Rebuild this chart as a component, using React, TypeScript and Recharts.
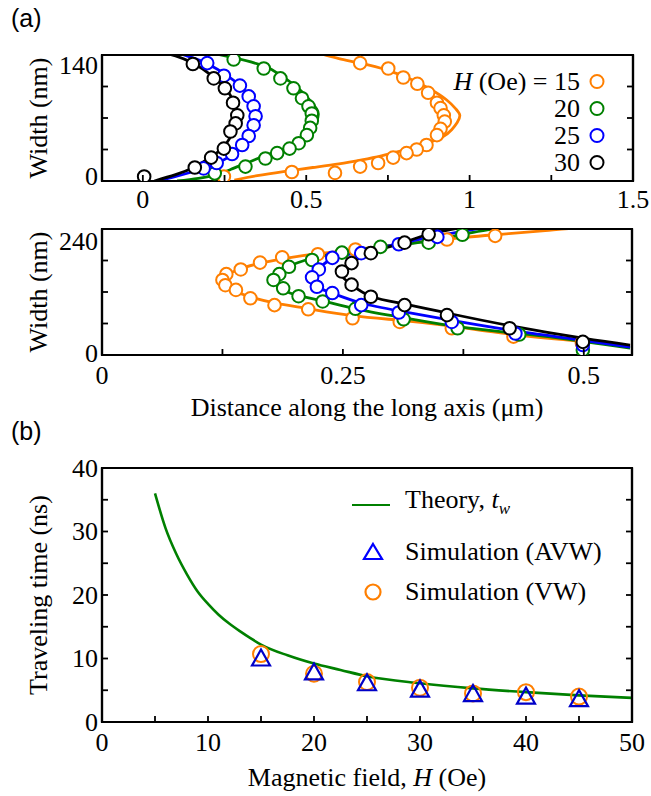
import React from "react";
import { ComposedChart, Line, Scatter, XAxis, YAxis, Legend, ReferenceArea } from "recharts";

const SERIF = '"Liberation Serif", "Times New Roman", Times, serif';
const SANS = '"Liberation Sans", Arial, Helvetica, sans-serif';

const ORANGE = "#ff7f00";
const GREEN = "#008000";
const BLUE = "#0000ff";
const NAVY = "#0000c8";
const BLACK = "#000000";

// legend of (a): applied field in Oe
const fieldsOe = [15, 20, 25, 30];

// (a) upper panel: [distance (um), width (nm)] — circles are simulation, lines are theory
const topPts15 = [[0.665, 131], [0.751, 125], [0.797, 115], [0.84, 108], [0.873, 98], [0.9, 87], [0.911, 81], [0.921, 73], [0.924, 66], [0.911, 58], [0.9, 51], [0.868, 40], [0.838, 35], [0.807, 31], [0.766, 26], [0.72, 20], [0.665, 16], [0.588, 9], [0.456, 10], [0.248, 5]];
const topFit15 = [[0.54, 142], [0.6, 136], [0.665, 131], [0.75, 123], [0.82, 113], [0.88, 102], [0.93, 90], [0.958, 80], [0.97, 73], [0.962, 65], [0.945, 57], [0.918, 49], [0.878, 43], [0.835, 38], [0.785, 33], [0.73, 28], [0.67, 23.5], [0.6, 19], [0.52, 15], [0.43, 10.5], [0.35, 6], [0.28, 1]];
const topPts20 = [[0.278, 135], [0.37, 125], [0.421, 114], [0.461, 103], [0.487, 92], [0.507, 83], [0.517, 75], [0.517, 67], [0.512, 59], [0.502, 51], [0.477, 42], [0.449, 36], [0.411, 31], [0.375, 25], [0.314, 16], [0.22, 8.5]];
const topFit20 = [[0.2, 143], [0.277, 137], [0.369, 128], [0.415, 119], [0.455, 109], [0.49, 98], [0.515, 88], [0.532, 80], [0.537, 74], [0.532, 66], [0.52, 57], [0.495, 47], [0.46, 40], [0.411, 33], [0.365, 27], [0.319, 20], [0.27, 13], [0.228, 7], [0.17, 3], [0.105, 0]];
const topPts25 = [[0.197, 131], [0.248, 117], [0.297, 106], [0.324, 94], [0.339, 83], [0.345, 72], [0.339, 62], [0.324, 50], [0.304, 40], [0.273, 30], [0.226, 20], [0.186, 14]];
const topFit25 = [[0.1, 143], [0.16, 136], [0.205, 129], [0.255, 118], [0.3, 105], [0.33, 92], [0.347, 80], [0.35, 72], [0.345, 61], [0.328, 49], [0.3, 37], [0.26, 26], [0.21, 17], [0.15, 10], [0.09, 4], [0.045, 0]];
const topPts30 = [[0.153, 130], [0.217, 114], [0.251, 103], [0.276, 87], [0.289, 73], [0.284, 64], [0.268, 55], [0.248, 36], [0.209, 26], [0.159, 15], [0.004, 5]];
const topFit30 = [[0.06, 143], [0.1, 139], [0.153, 131], [0.215, 116], [0.255, 102], [0.278, 88], [0.29, 74], [0.287, 62], [0.27, 50], [0.245, 37], [0.205, 26], [0.155, 15], [0.1, 7], [0.035, 0]];

// (a) lower panel
const btmPts15 = [[0.408, 227], [0.358, 220], [0.263, 201], [0.224, 192], [0.187, 186], [0.164, 176], [0.144, 163], [0.129, 154], [0.125, 143], [0.128, 133], [0.139, 124], [0.154, 108], [0.179, 95], [0.214, 87], [0.26, 70], [0.309, 63], [0.363, 51], [0.427, 35], [0.498, 23]];
const btmFit15 = [[0.55, 247], [0.5, 243], [0.46, 237], [0.408, 229], [0.358, 221], [0.31, 211], [0.263, 201], [0.224, 193], [0.19, 184], [0.16, 173], [0.138, 160], [0.125, 146], [0.125, 136], [0.135, 124], [0.155, 110], [0.18, 99], [0.215, 88], [0.26, 75], [0.31, 66], [0.363, 55], [0.427, 39], [0.498, 26], [0.548, 17]];
const btmPts20 = [[0.374, 229], [0.339, 214], [0.289, 206], [0.249, 195], [0.218, 181], [0.194, 168], [0.184, 154], [0.178, 143], [0.188, 127], [0.204, 112], [0.229, 102], [0.263, 88], [0.313, 68], [0.369, 51], [0.433, 39], [0.499, 9.5]];
const btmFit20 = [[0.42, 244], [0.374, 230], [0.339, 217], [0.289, 206], [0.249, 196], [0.21, 180], [0.188, 163], [0.178, 146], [0.183, 130], [0.2, 115], [0.229, 103], [0.263, 88], [0.313, 71], [0.369, 54], [0.433, 41], [0.499, 26], [0.548, 13]];
const btmPts25 = [[0.348, 225], [0.308, 211], [0.269, 194], [0.239, 185], [0.225, 163], [0.218, 148], [0.223, 130], [0.239, 118], [0.269, 95], [0.308, 81], [0.363, 63], [0.429, 41], [0.499, 19]];
const btmFit25 = [[0.4, 244], [0.348, 227], [0.308, 212], [0.269, 196], [0.24, 184], [0.225, 165], [0.217, 148], [0.222, 131], [0.24, 117], [0.269, 99], [0.308, 84], [0.363, 66], [0.429, 46], [0.499, 28], [0.548, 15]];
const btmPts30 = [[0.339, 230], [0.314, 214], [0.279, 194], [0.259, 175], [0.249, 159], [0.259, 134], [0.279, 111], [0.314, 95], [0.358, 76], [0.423, 51], [0.499, 25]];
const btmFit30 = [[0.38, 245], [0.339, 230], [0.314, 215], [0.279, 195], [0.259, 176], [0.249, 159], [0.251, 146], [0.259, 134], [0.279, 112], [0.314, 97], [0.358, 80], [0.423, 56], [0.499, 32], [0.548, 19]];

// (b) traveling time vs field
const theoryH = [5, 6, 7, 8, 9, 10, 11, 12, 13, 14, 15, 17.5, 20, 22.5, 25, 30, 35, 40, 45, 50];
const theoryT = [36, 30.5, 26.5, 23.3, 20.6, 18.6, 16.9, 15.5, 14.3, 13.2, 12.2, 10.5, 9.2, 8.2, 7.2, 6.1, 5.3, 4.7, 4.2, 3.8];
const simH = [15, 20, 25, 30, 35, 40, 45];
const simAVW = [10.0, 7.8, 6.1, 5.1, 4.4, 4.0, 3.6];
const simVW = [10.7, 7.6, 6.3, 5.4, 4.5, 4.7, 4.0];

const toXY = (a: number[][]) => a.map(([x, y]) => ({ x, y }));
const zipXY = (xs: number[], ys: number[]) => xs.map((x, i) => ({ x, y: ys[i] }));

const topSeries = [
  { color: ORANGE, pts: toXY(topPts15), fit: toXY(topFit15) },
  { color: GREEN, pts: toXY(topPts20), fit: toXY(topFit20) },
  { color: BLUE, pts: toXY(topPts25), fit: toXY(topFit25) },
  { color: BLACK, pts: toXY(topPts30), fit: toXY(topFit30) },
];
const btmSeries = [
  { color: ORANGE, pts: toXY(btmPts15), fit: toXY(btmFit15) },
  { color: GREEN, pts: toXY(btmPts20), fit: toXY(btmFit20) },
  { color: BLUE, pts: toXY(btmPts25), fit: toXY(btmFit25) },
  { color: BLACK, pts: toXY(btmPts30), fit: toXY(btmFit30) },
];

const AXIS = { stroke: "#000", strokeWidth: 2.2 };
const TICK_TEXT = { fontSize: 26, fill: "#000", fontFamily: SERIF };
const TL = 6; // inward tick length

const ring = (color: string, r: number, fill: string) => (p: any) =>
  <circle cx={p.cx} cy={p.cy} r={r} fill={fill} stroke={color} strokeWidth={2} />;

const triangle = (p: any) => (
  <path d={`M${p.cx},${p.cy - 9} L${p.cx + 9},${p.cy + 7} L${p.cx - 9},${p.cy + 7} Z`} fill="none" stroke={NAVY} strokeWidth={2.2} />
);

// tick marks are drawn here (inward), with tickSize/tickMargin 0 so x,y sit on the frame
function EdgeTick(props: any) {
  const { x, y, payload, side, fmt, gap, shift } = props;
  const v = payload.value;
  const label = fmt ? fmt(v) : "";
  const d = { bottom: [0, -TL], top: [0, TL], left: [TL, 0], right: [-TL, 0] }[side as "bottom"];
  return (
    <g>
      <line x1={x} y1={y} x2={x + d[0]} y2={y + d[1]} stroke="#000" strokeWidth={1.8} />
      {label && side === "bottom" ? (
        <text x={x} y={y + gap} textAnchor="middle" dominantBaseline="central" {...TICK_TEXT}>{label}</text>
      ) : null}
      {label && side === "left" ? (
        <text x={x - gap} y={y + ((shift && shift[v]) || 0)} textAnchor="end" dominantBaseline="central" {...TICK_TEXT}>{label}</text>
      ) : null}
    </g>
  );
}

function Frame(props: {
  xDomain: number[]; xTicks: number[]; xFmt: (v: number) => string; xGap: number;
  yDomain: number[]; yTicks: number[]; yFmt: (v: number) => string; yShift: Record<number, number>;
}) {
  const { xDomain, xTicks, xFmt, xGap, yDomain, yTicks, yFmt, yShift } = props;
  const common = { type: "number" as const, interval: 0 as const, allowDataOverflow: true, tickSize: 0, tickMargin: 0, axisLine: AXIS, tickLine: false };
  return [
    <XAxis key="xb" xAxisId="b" dataKey="x" domain={xDomain} ticks={xTicks} height={1} {...common}
      tick={<EdgeTick side="bottom" fmt={xFmt} gap={xGap} />} />,
    <XAxis key="xt" xAxisId="t" orientation="top" domain={xDomain} ticks={xTicks} height={1} {...common}
      tick={<EdgeTick side="top" />} />,
    <YAxis key="yl" yAxisId="l" dataKey="y" domain={yDomain} ticks={yTicks} width={1} {...common}
      tick={<EdgeTick side="left" fmt={yFmt} gap={4} shift={yShift} />} />,
    <YAxis key="yr" yAxisId="r" orientation="right" domain={yDomain} ticks={yTicks} width={1} {...common}
      tick={<EdgeTick side="right" />} />,
    <ReferenceArea key="box" xAxisId="b" yAxisId="l" x1={xDomain[0]} x2={xDomain[1]} y1={yDomain[0]} y2={yDomain[1]}
      fill="none" stroke="#000" strokeWidth={2.2} ifOverflow="visible" />,
  ];
}

function FieldLegend() {
  return (
    <div style={{ fontFamily: SERIF, fontSize: 26, color: "#000" }}>
      {fieldsOe.map((h, i) => (
        <div key={h} style={{ display: "flex", justifyContent: "flex-end", alignItems: "center", height: 27 }}>
          <span style={{ lineHeight: "27px", whiteSpace: "nowrap" }}>
            {i === 0 ? <><i>H</i> (Oe) = </> : null}{h}
          </span>
          <svg width={20} height={27} style={{ marginLeft: 7 }}>
            <circle cx={10} cy={13.5} r={6.5} fill="none" stroke={topSeries[i].color} strokeWidth={2} />
          </svg>
        </div>
      ))}
    </div>
  );
}

function TimeLegend() {
  const rows = [
    { top: 5, icon: <line x1={2} y1={20} x2={40} y2={20} stroke={GREEN} strokeWidth={2} />, text: <>Theory, <i>t</i><sub style={{ fontSize: 17 }}><i>w</i></sub></> },
    { top: 52, icon: <path d="M23,12 L32,27 L14,27 Z" fill="none" stroke={BLUE} strokeWidth={2.2} />, text: <>Simulation (AVW)</> },
    { top: 92, icon: <circle cx={23} cy={20} r={7.5} fill="none" stroke={ORANGE} strokeWidth={2.2} />, text: <>Simulation (VW)</> },
  ];
  return (
    <div style={{ position: "relative", width: 280, height: 135, fontFamily: SERIF, fontSize: 26, color: "#000" }}>
      {rows.map((r, i) => (
        <div key={i} style={{ position: "absolute", left: 0, top: r.top, height: 40, display: "flex", alignItems: "center" }}>
          <svg width={55} height={40}>{r.icon}</svg>
          <span style={{ whiteSpace: "nowrap", lineHeight: "40px" }}>{r.text}</span>
        </div>
      ))}
    </div>
  );
}

function Profile(props: { series: typeof topSeries; height: number; margin: any; frame: any; legend?: boolean }) {
  const { series, height, margin, frame, legend } = props;
  return (
    <ComposedChart width={651} height={height} margin={margin}>
      {Frame(frame)}
      {series.map((s, i) => (
        <Line key={"f" + i} xAxisId="b" yAxisId="l" data={s.fit} dataKey="y" type="natural" stroke={s.color}
          strokeWidth={2.8} dot={false} activeDot={false} isAnimationActive={false} />
      ))}
      {series.map((s, i) => (
        <Scatter key={"p" + i} xAxisId="b" yAxisId="l" data={s.pts} dataKey="y" shape={ring(s.color, 6.3, "#fff")}
          isAnimationActive={false} />
      ))}
      {legend ? (
        <Legend layout="vertical" align="center" verticalAlign="middle" content={() => <FieldLegend />}
          wrapperStyle={{ left: 400, top: 68, width: 207 }} />
      ) : null}
    </ComposedChart>
  );
}

const abs = (left: number, top: number): React.CSSProperties => ({ position: "absolute", left, top });
const title: React.CSSProperties = { fontFamily: SERIF, fontSize: 26, color: "#000", whiteSpace: "nowrap", lineHeight: "30px" };

export default function App() {
  const halfFmt = (v: number) => (Math.abs(v * 2 - Math.round(v * 2)) < 1e-9 ? String(v) : "");
  const quarterFmt = (v: number) => (Math.abs(v * 4 - Math.round(v * 4)) < 1e-9 ? String(v) : "");
  const tenFmt = (v: number) => (v % 10 === 0 ? String(v) : "");
  const endsFmt = (lo: number, hi: number) => (v: number) => (v === lo || v === hi ? String(v) : "");
  return (
    <div style={{ position: "absolute", left: 0, top: 0, width: 651, height: 796, background: "#fff", overflow: "hidden" }}>
      <div style={{ ...abs(11, 3), fontFamily: SANS, fontSize: 25, lineHeight: "30px" }}>(a)</div>
      <div style={{ ...abs(11, 416), fontFamily: SANS, fontSize: 25, lineHeight: "30px" }}>(b)</div>

      <div style={abs(0, 0)}>
        <Profile series={topSeries} height={215} margin={{ top: 54, right: 17, bottom: 33, left: 101 }} legend
          frame={{
            xDomain: [-0.125, 1.5], xTicks: [0, 0.25, 0.5, 0.75, 1, 1.25, 1.5], xFmt: halfFmt, xGap: 18,
            yDomain: [0, 140], yTicks: [0, 35, 70, 105, 140], yFmt: endsFmt(0, 140), yShift: { 0: -5, 140: 10 },
          }} />
      </div>

      <div style={abs(0, 200)}>
        <Profile series={btmSeries} height={200} margin={{ top: 28, right: 18, bottom: 44, left: 101 }}
          frame={{
            xDomain: [0, 0.55], xTicks: [0, 0.125, 0.25, 0.375, 0.5], xFmt: quarterFmt, xGap: 20,
            yDomain: [0, 240], yTicks: [0, 60, 120, 180, 240], yFmt: endsFmt(0, 240), yShift: { 0: -2, 240: 12 },
          }} />
      </div>

      <div style={abs(0, 400)}>
        <ComposedChart width={651} height={396} margin={{ top: 67, right: 18, bottom: 73, left: 101 }}>
          {Frame({
            xDomain: [0, 50], xTicks: [0, 5, 10, 15, 20, 25, 30, 35, 40, 45, 50], xFmt: tenFmt, xGap: 20,
            yDomain: [0, 40], yTicks: [0, 5, 10, 15, 20, 25, 30, 35, 40], yFmt: tenFmt, yShift: {},
          })}
          <Line xAxisId="b" yAxisId="l" data={zipXY(theoryH, theoryT)} dataKey="y" type="monotone" stroke={GREEN}
            strokeWidth={2.6} dot={false} activeDot={false} isAnimationActive={false} />
          <Scatter xAxisId="b" yAxisId="l" data={zipXY(simH, simVW)} dataKey="y" shape={ring(ORANGE, 8, "none")}
            isAnimationActive={false} />
          <Scatter xAxisId="b" yAxisId="l" data={zipXY(simH, simAVW)} dataKey="y" shape={triangle}
            isAnimationActive={false} />
          <Legend layout="vertical" align="center" verticalAlign="middle" content={() => <TimeLegend />}
            wrapperStyle={{ left: 350, top: 80, width: 280 }} />
        </ComposedChart>
      </div>

      <div style={{ ...abs(39, 118), ...title, transform: "translate(-50%, -50%) rotate(-90deg)" }}>Width (nm)</div>
      <div style={{ ...abs(39, 292), ...title, transform: "translate(-50%, -50%) rotate(-90deg)" }}>Width (nm)</div>
      <div style={{ ...abs(39, 595), ...title, transform: "translate(-50%, -50%) rotate(-90deg)" }}>Traveling time (ns)</div>
      <div style={{ ...abs(367, 408), ...title, transform: "translate(-50%, -50%)" }}>Distance along the long axis (μm)</div>
      <div style={{ ...abs(367, 778), ...title, transform: "translate(-50%, -50%)" }}>
        Magnetic field, <i>H</i> (Oe)
      </div>
    </div>
  );
}
